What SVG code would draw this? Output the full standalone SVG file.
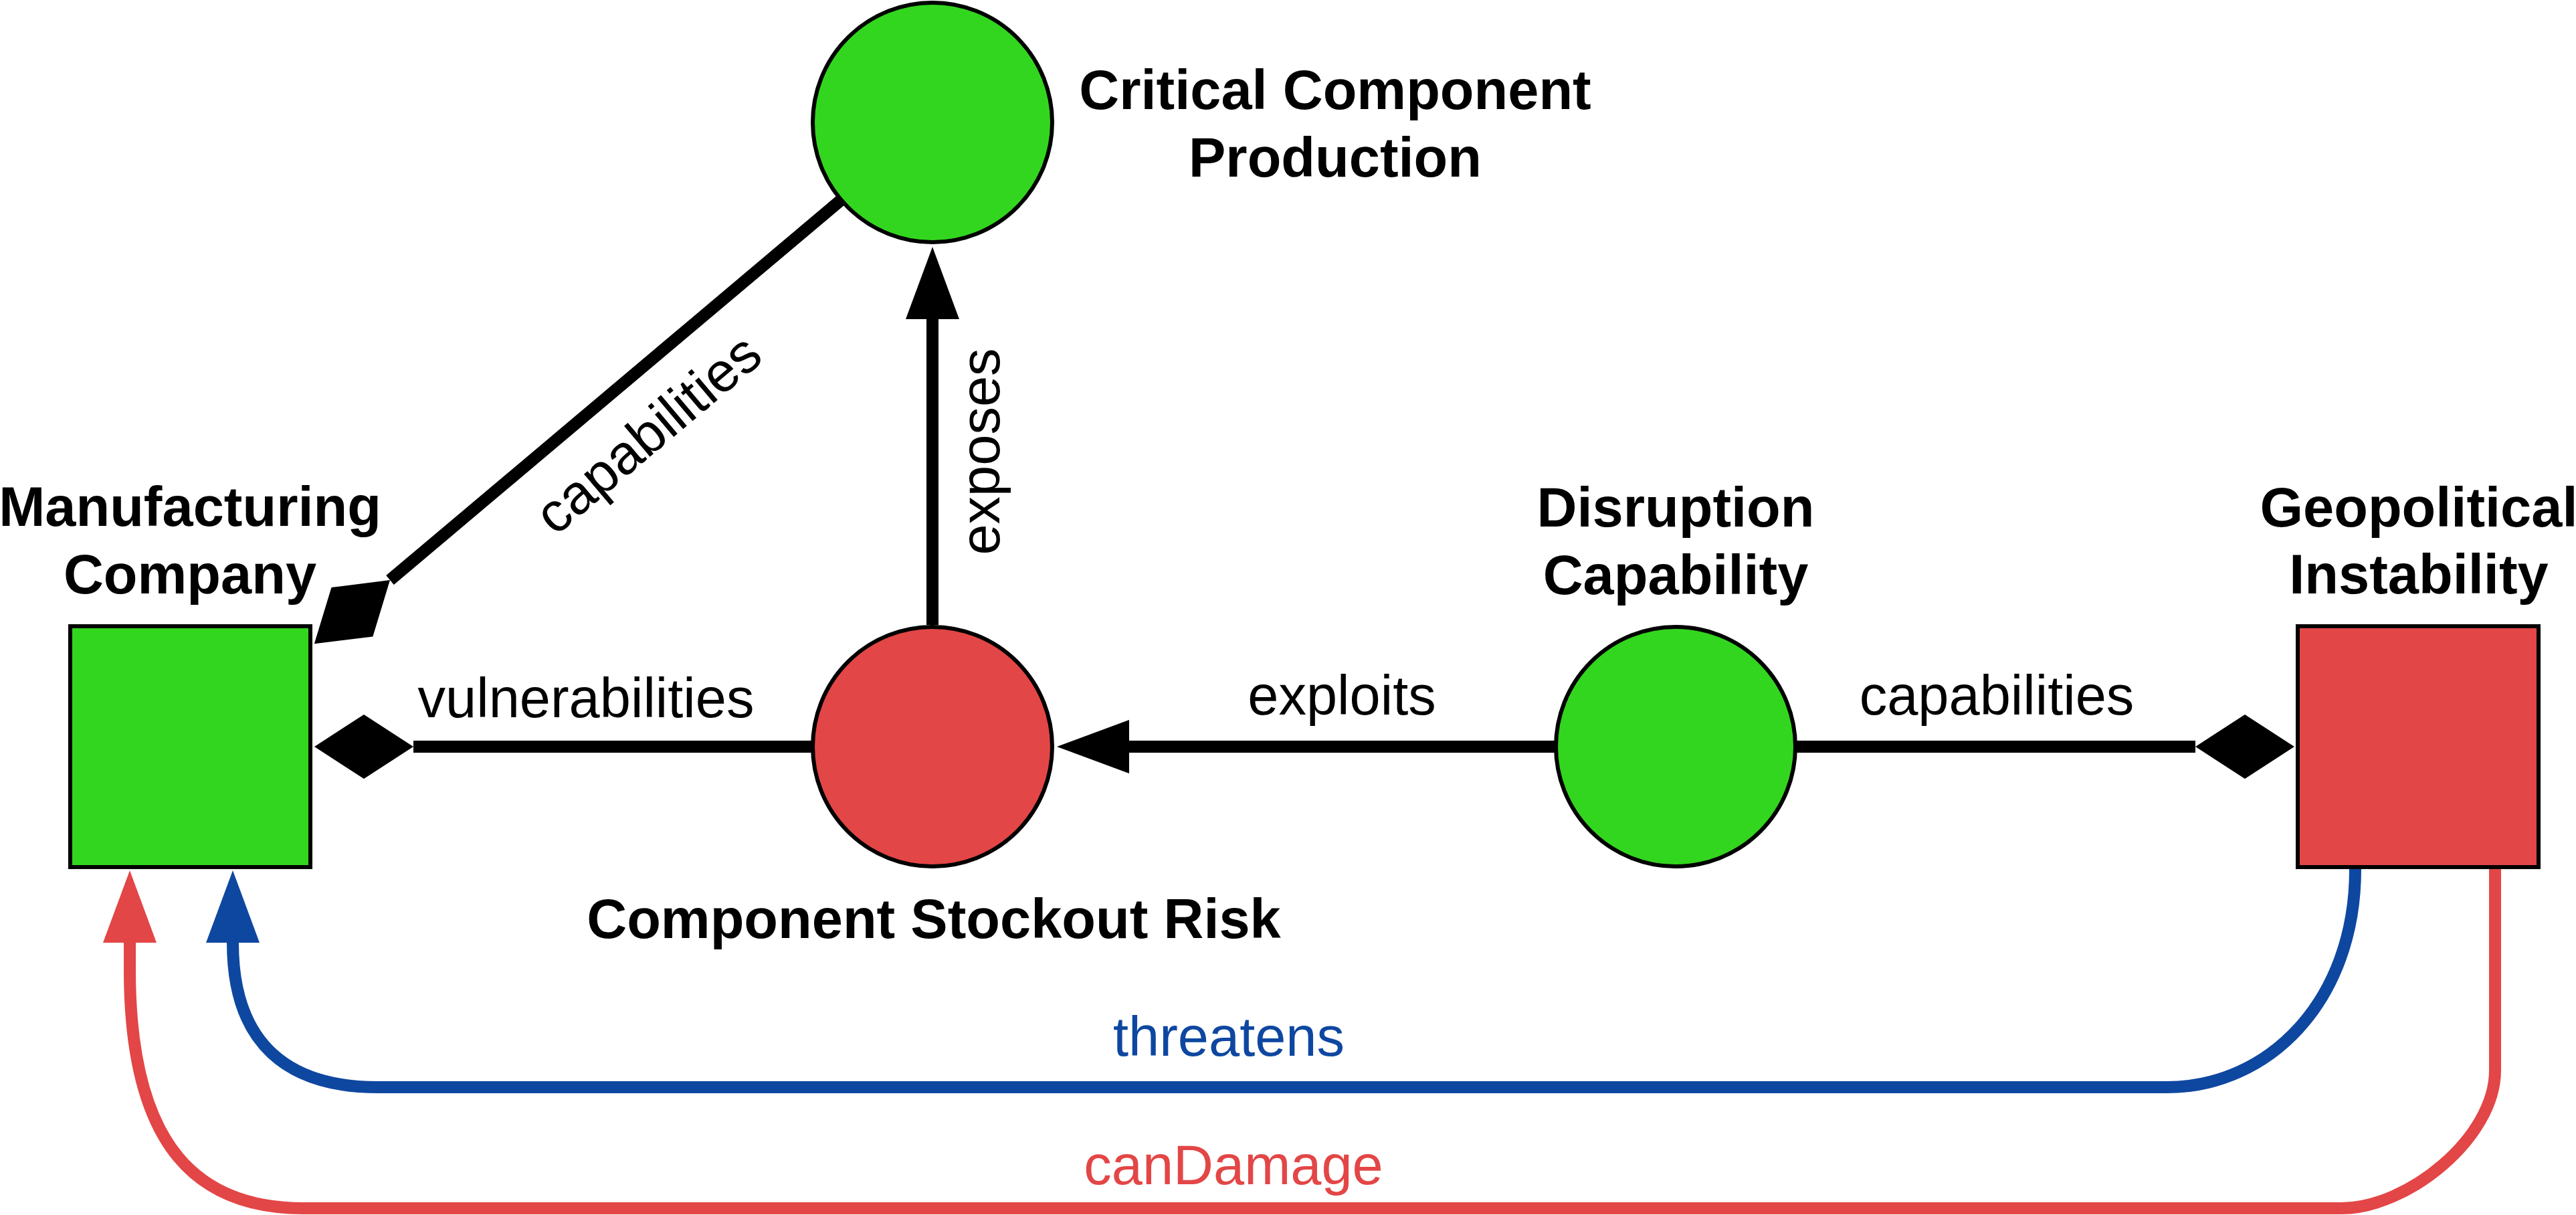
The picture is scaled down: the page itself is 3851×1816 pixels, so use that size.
<svg xmlns="http://www.w3.org/2000/svg" width="3851" height="1816" viewBox="0 0 3851 1816">
<style>
.node{stroke:#000;stroke-width:6}
.green{fill:#33D61E}
.red{fill:#E34646}
.nlabel{font-family:"Liberation Sans",Arial,sans-serif;font-size:83px;font-weight:bold;fill:#000;text-anchor:middle}
.elabel{font-family:"Liberation Sans",Arial,sans-serif;font-size:83px;fill:#000;text-anchor:middle}
.edge{fill:none;stroke:#000;stroke-width:18}
.blue-edge{fill:none;stroke:#0E47A0;stroke-width:18}
.red-edge{fill:none;stroke:#E34646;stroke-width:18}
</style>
<defs>
<marker id="diamond" markerUnits="userSpaceOnUse" markerWidth="148" markerHeight="96" refX="0" refY="48" orient="auto" overflow="visible">
<path d="M0,48 L74,0 L148,48 L74,96 Z" fill="#000"/>
</marker>
<marker id="arrow" markerUnits="userSpaceOnUse" markerWidth="108" markerHeight="80" refX="0" refY="40" orient="auto" overflow="visible">
<path d="M0,0 L108,40 L0,80 Z" fill="#000"/>
</marker>
<marker id="arrow-blue" markerUnits="userSpaceOnUse" markerWidth="108" markerHeight="80" refX="0" refY="40" orient="auto" overflow="visible">
<path d="M0,0 L108,40 L0,80 Z" fill="#0E47A0"/>
</marker>
<marker id="arrow-red" markerUnits="userSpaceOnUse" markerWidth="108" markerHeight="80" refX="0" refY="40" orient="auto" overflow="visible">
<path d="M0,0 L108,40 L0,80 Z" fill="#E34646"/>
</marker>
</defs>
<rect width="3851" height="1816" fill="#fff"/>
<g id="connectors">
<path class="edge" d="M1256,300 L583,867" marker-end="url(#diamond)"/>
<path class="edge" d="M1394,934 L1394,477" marker-end="url(#arrow)"/>
<path class="edge" d="M1213,1116 L618,1116" marker-end="url(#diamond)"/>
<path class="edge" d="M2325,1116 L1688,1116" marker-end="url(#arrow)"/>
<path class="edge" d="M2686,1116 L3282,1116" marker-end="url(#diamond)"/>
<path class="blue-edge" d="M3521,1299 C3521,1498 3390,1625 3240,1625 L565,1625 C430,1625 348,1560 348,1409" marker-end="url(#arrow-blue)"/>
<path class="red-edge" d="M3730,1299 L3730,1600 C3730,1700 3600,1806 3500,1806 L454,1806 C300,1806 194,1720 194,1450 L194,1409" marker-end="url(#arrow-red)"/>
<text class="elabel" transform="translate(987,670) rotate(-40.1)" x="0" y="0">capabilities</text>
<text class="elabel" transform="translate(1494,675) rotate(-90)" x="0" y="0">exposes</text>
<text class="elabel" x="876" y="1072">vulnerabilities</text>
<text class="elabel" x="2006" y="1068">exploits</text>
<text class="elabel" x="2985" y="1068">capabilities</text>
<text class="elabel" x="1837" y="1578" style="fill:#0E47A0">threatens</text>
<text class="elabel" x="1844" y="1770" style="fill:#E34646">canDamage</text>
</g>
<g id="manufacturing-company">
<rect class="node green" x="105" y="936" width="359" height="360"/>
<text class="nlabel" x="284" y="786">Manufacturing</text>
<text class="nlabel" x="284" y="887">Company</text>
</g>
<g id="critical-component-production">
<circle class="node green" cx="1394" cy="183" r="179"/>
<text class="nlabel" x="1996" y="163">Critical Component</text>
<text class="nlabel" x="1996" y="264">Production</text>
</g>
<g id="component-stockout-risk">
<circle class="node red" cx="1394" cy="1116" r="179"/>
<text class="nlabel" x="1396" y="1402">Component Stockout Risk</text>
</g>
<g id="disruption-capability">
<circle class="node green" cx="2505" cy="1116" r="179"/>
<text class="nlabel" x="2505" y="787">Disruption</text>
<text class="nlabel" x="2505" y="888">Capability</text>
</g>
<g id="geopolitical-instability">
<rect class="node red" x="3435" y="936" width="360" height="360"/>
<text class="nlabel" x="3616" y="787">Geopolitical</text>
<text class="nlabel" x="3616" y="887">Instability</text>
</g>
</svg>
